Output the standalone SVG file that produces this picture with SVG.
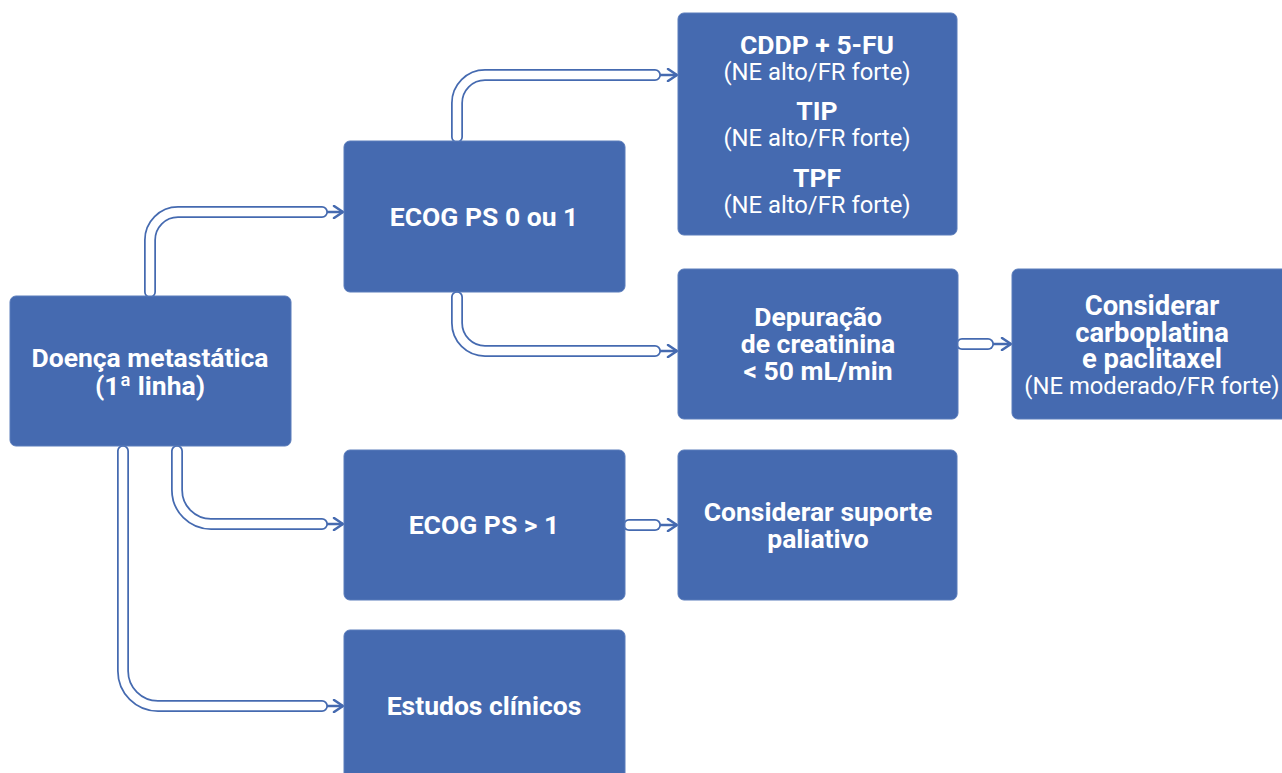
<svg xmlns="http://www.w3.org/2000/svg" width="1282" height="773" viewBox="0 0 1282 773">
<defs>
<style>
.box{fill:#456AB0;stroke:#5A7CBB;stroke-width:1}
.b{font-family:Roboto,"Liberation Sans",sans-serif;font-weight:700;font-size:26.5px;fill:#fff;text-anchor:middle}
.b2{font-family:Roboto,"Liberation Sans",sans-serif;font-weight:700;font-size:27.4px;fill:#fff;text-anchor:middle}
.r{font-family:Roboto,"Liberation Sans",sans-serif;font-weight:400;font-size:23.8px;fill:#fff;text-anchor:middle}
.po{fill:none;stroke:#456AB0;stroke-width:12;stroke-linecap:round;stroke-linejoin:round}
.pi{fill:none;stroke:#fff;stroke-width:8.5;stroke-linecap:round;stroke-linejoin:round}
.ar{fill:none;stroke:#456AB0;stroke-width:2.5;marker-end:url(#ah)}
</style>
<marker id="ah" viewBox="0 0 12 14" refX="11" refY="7" markerWidth="12" markerHeight="14" markerUnits="userSpaceOnUse" orient="auto">
<path d="M2,1 L11,7 L2,13" fill="none" stroke="#456AB0" stroke-width="2.5" stroke-linecap="round" stroke-linejoin="round"/>
</marker>
</defs>
<rect width="1282" height="773" fill="#fff"/>
<g id="connectors">
<path class="ar" d="M322,212 H343"/>
<path class="po" d="M150,292 V240 A28,28 0 0 1 178,212 H322"/>
<path class="pi" d="M150,292 V240 A28,28 0 0 1 178,212 H322"/>
<path class="ar" d="M655,75 H677"/>
<path class="po" d="M457,137 V103 A28,28 0 0 1 485,75 H655"/>
<path class="pi" d="M457,137 V103 A28,28 0 0 1 485,75 H655"/>
<path class="ar" d="M655,351 H677"/>
<path class="po" d="M457,297 V323 A28,28 0 0 0 485,351 H655"/>
<path class="pi" d="M457,297 V323 A28,28 0 0 0 485,351 H655"/>
<path class="ar" d="M177,451 V490 A34,34 0 0 0 211,524 H343"/>
<path class="po" d="M177,451 V490 A34,34 0 0 0 211,524 H322"/>
<path class="pi" d="M177,451 V490 A34,34 0 0 0 211,524 H322"/>
<path class="ar" d="M322,706 H343"/>
<path class="po" d="M123,451 V671 A35,35 0 0 0 158,706 H322"/>
<path class="pi" d="M123,451 V671 A35,35 0 0 0 158,706 H322"/>
<path class="ar" d="M988,344 H1011"/>
<path class="po" d="M962,344 H988"/>
<path class="pi" d="M962,344 H988"/>
<path class="ar" d="M655,525 H677"/>
<path class="po" d="M629,525 H655"/>
<path class="pi" d="M629,525 H655"/>
</g>
<g id="n-doenca">
<rect class="box" x="10" y="296" width="281" height="150" rx="6"/>
<text class="b" x="150" y="367">Doença metastática</text>
<text class="b" x="150" y="395">(1ª linha)</text>
</g>
<g id="n-ecog01">
<rect class="box" x="344" y="141" width="281" height="151" rx="6"/>
<text class="b" x="484" y="226">ECOG PS 0 ou 1</text>
</g>
<g id="n-regimes">
<rect class="box" x="678" y="13" width="279" height="222" rx="6"/>
<text class="b" x="817" y="54">CDDP + 5-FU</text>
<text class="r" x="817" y="80">(NE alto/FR forte)</text>
<text class="b" x="817" y="120">TIP</text>
<text class="r" x="817" y="146">(NE alto/FR forte)</text>
<text class="b" x="817" y="187">TPF</text>
<text class="r" x="817" y="213">(NE alto/FR forte)</text>
</g>
<g id="n-depuracao">
<rect class="box" x="678" y="269" width="280" height="150" rx="6"/>
<text class="b" x="818" y="326">Depuração</text>
<text class="b" x="818" y="353">de creatinina</text>
<text class="b" x="818" y="380">&lt; 50 mL/min</text>
</g>
<g id="n-carbo">
<rect class="box" x="1012" y="269" width="280" height="150" rx="6"/>
<text class="b2" x="1152" y="315">Considerar</text>
<text class="b2" x="1152" y="342">carboplatina</text>
<text class="b2" x="1152" y="368">e paclitaxel</text>
<text class="r" x="1152" y="394">(NE moderado/FR forte)</text>
</g>
<g id="n-ecog2">
<rect class="box" x="344" y="450" width="281" height="150" rx="6"/>
<text class="b" x="484" y="534">ECOG PS &gt; 1</text>
</g>
<g id="n-suporte">
<rect class="box" x="678" y="450" width="279" height="150" rx="6"/>
<text class="b" x="818" y="521">Considerar suporte</text>
<text class="b" x="818" y="548">paliativo</text>
</g>
<g id="n-estudos">
<rect class="box" x="344" y="630" width="281" height="153" rx="6"/>
<text class="b" x="484" y="715">Estudos clínicos</text>
</g>
</svg>
